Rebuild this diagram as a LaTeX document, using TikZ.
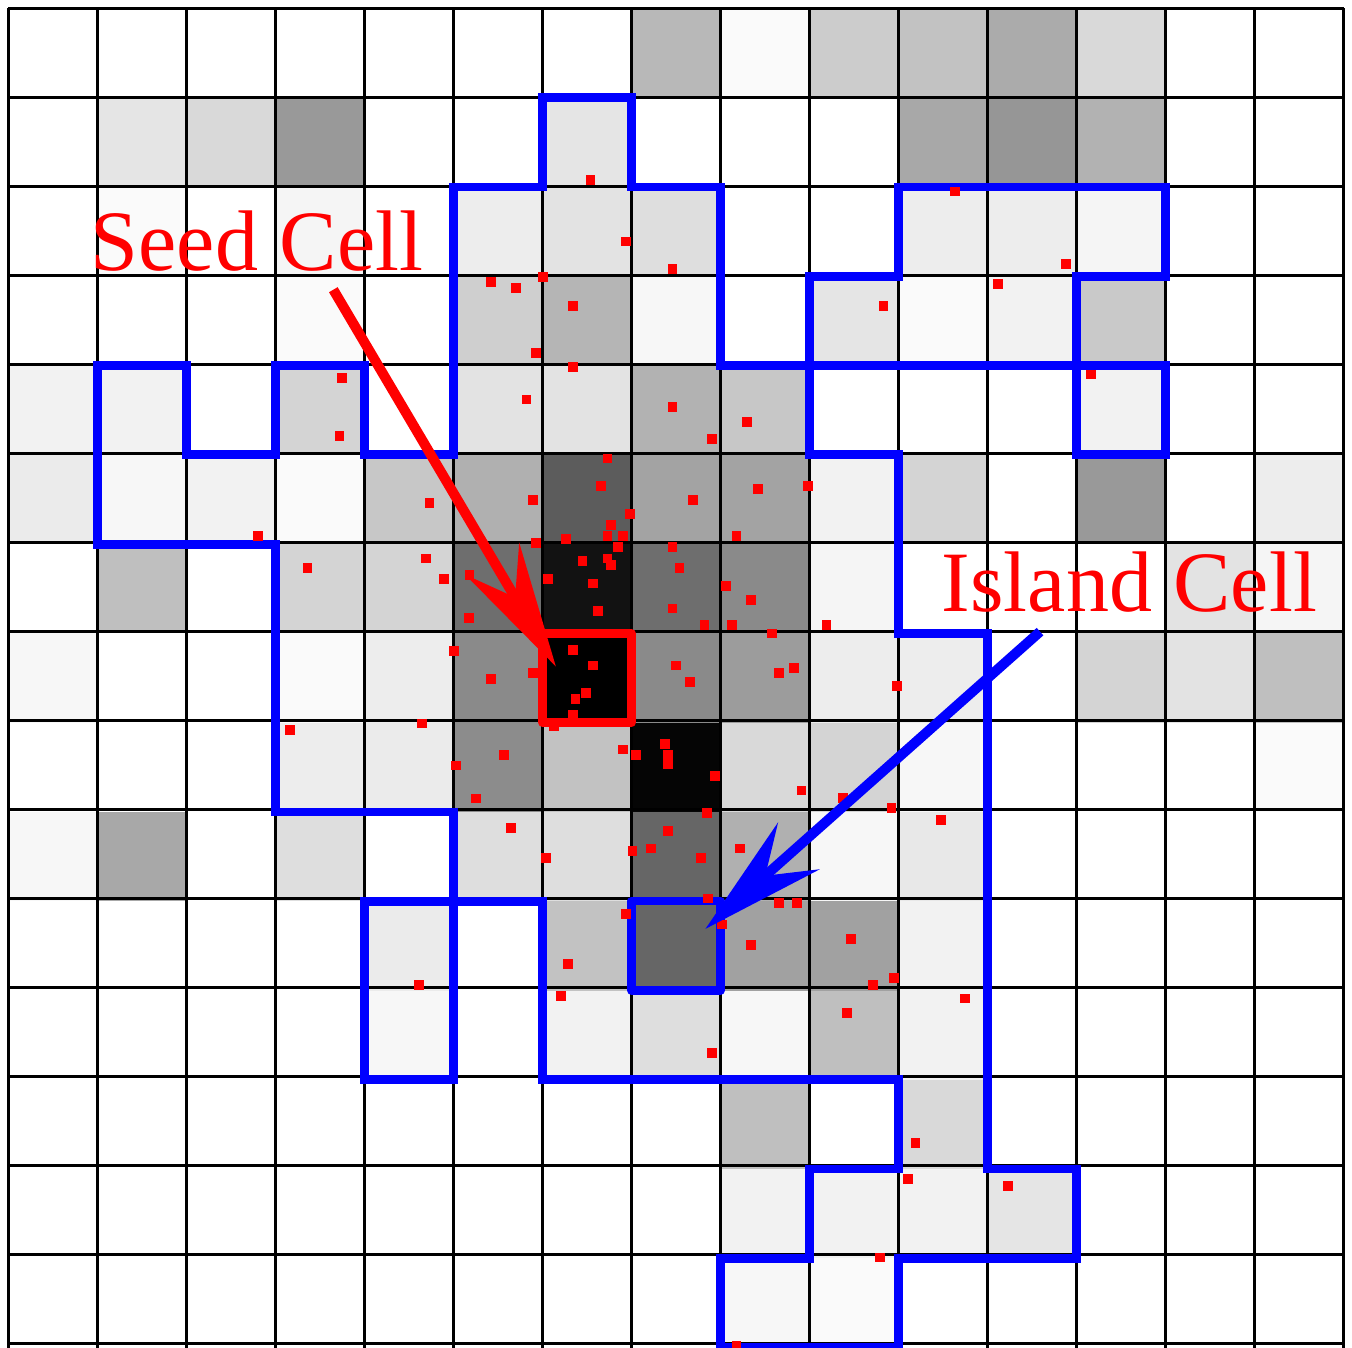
\documentclass[tikz,border=0pt]{standalone}
\usepackage{fontspec}
\setmainfont{Liberation Serif}
\usetikzlibrary{arrows.meta}
\definecolor{seedred}{HTML}{FF0000}
\definecolor{zoneblue}{HTML}{0000FF}

\begin{document}
\begin{tikzpicture}[x=1cm, y=-1.003cm,
  cellgrid/.style={draw=black, line width=1.1pt},
  zone/.style={draw=zoneblue, line width=2.8pt},
  cellbox/.style={draw=#1, line width=2.7pt, line join=round, minimum width=1cm, minimum height=1.003cm, inner sep=0pt},
  lbl/.style={text=seedred, font=\fontsize{27.5}{30}\selectfont, inner sep=0pt, anchor=base west},
  ptr/.style={draw=#1, fill=#1, line width=3.2pt, -{Stealth[length=1.4cm, width=0.7cm, inset=0.5cm]}}]

\useasboundingbox (-0.095,-0.095) rectangle (15.095,15.0);

% grey level of each cell (column/row/percent black)
\foreach \c/\r/\g in {7/0/28, 8/0/2, 9/0/20, 10/0/24, 11/0/33, 12/0/15,
  1/1/10, 2/1/15, 3/1/40, 6/1/10, 10/1/34, 11/1/41, 12/1/30,
  1/2/2, 3/2/4, 5/2/7, 6/2/11, 7/2/13, 10/2/7, 11/2/7, 12/2/4,
  3/3/2, 5/3/19, 6/3/29, 7/3/3, 9/3/10, 10/3/2, 11/3/5, 12/3/21,
  0/4/5, 1/4/5, 3/4/17, 5/4/11, 6/4/11, 7/4/30, 8/4/22, 12/4/5,
  0/5/8, 1/5/3, 2/5/5, 3/5/2, 4/5/22, 5/5/31, 6/5/64, 7/5/36, 8/5/36, 9/5/5, 10/5/17, 12/5/40, 14/5/7,
  1/6/25, 3/6/17, 4/6/17, 5/6/57, 6/6/93, 7/6/57, 8/6/46, 9/6/4, 13/6/11, 14/6/4,
  0/7/3, 3/7/2, 4/7/7, 5/7/46, 6/7/100, 7/7/46, 8/7/39, 9/7/7, 10/7/7, 12/7/17, 13/7/11, 14/7/25,
  3/8/7, 4/8/8, 5/8/45, 6/8/24, 7/8/98, 8/8/15, 9/8/17, 10/8/3, 14/8/2,
  0/9/3, 1/9/34, 3/9/13, 5/9/13, 6/9/13, 7/9/60, 8/9/31, 9/9/3, 10/9/9,
  4/10/8, 6/10/24, 7/10/60, 8/10/37, 9/10/37, 10/10/5,
  4/11/3, 6/11/5, 7/11/13, 8/11/3, 9/11/25, 10/11/5,
  8/12/25, 10/12/15,
  8/13/5, 9/13/5, 10/13/5, 11/13/10,
  8/14/3, 9/14/2}
  \fill[black!\g] (\c,\r) rectangle ++(1,1);

\draw[cellgrid] (0,0) grid (15,15);

% grown regions
\draw[zone] (6,1) -- (7,1) -- (7,2) -- (8,2) -- (8,4) -- (9,4) -- (9,5) -- (10,5) -- (10,7)
  -- (11,7) -- (11,13) -- (12,13) -- (12,14) -- (10,14) -- (10,15) -- (8,15) -- (8,14)
  -- (9,14) -- (9,13) -- (10,13) -- (10,12) -- (6,12) -- (6,10) -- (5,10) -- (5,12)
  -- (4,12) -- (4,10) -- (5,10) -- (5,9) -- (3,9) -- (3,6) -- (1,6) -- (1,4) -- (2,4)
  -- (2,5) -- (3,5) -- (3,4) -- (4,4) -- (4,5) -- (5,5) -- (5,2) -- (6,2) -- cycle;
\draw[zone] (10,2) -- (13,2) -- (13,3) -- (12,3) -- (12,4) -- (9,4) -- (9,3) -- (10,3) -- cycle;
\draw[zone] (12,4) rectangle (13,5);
\node[cellbox=zoneblue] (island) at (7.5,10.5) {};
\node[cellbox=seedred] (seed) at (6.5,7.5) {};

% sample points
\foreach \x/\y in {3.75/4.14, 3.72/4.79, 6.54/1.92, 6.94/2.61, 7.46/2.92, 5.42/3.06, 5.70/3.13,
  6.01/3.01, 6.34/3.33, 5.93/3.86, 6.34/4.02, 5.82/4.38, 7.46/4.46, 7.90/4.82, 8.30/4.63,
  9.83/3.33, 6.73/5.04, 10.63/2.05, 11.88/2.86, 11.12/3.09, 12.16/4.10, 2.80/5.91, 4.73/5.54,
  3.36/6.27, 4.69/6.16, 4.89/6.39, 5.01/7.20, 3.16/8.08, 4.65/8.01, 5.03/8.48, 6.66/5.35,
  5.89/5.51, 6.98/5.66, 6.77/5.79, 6.73/5.91, 6.90/5.91, 5.93/5.99, 6.26/5.94, 6.85/6.03,
  7.46/6.03, 6.45/6.19, 6.73/6.16, 6.77/6.23, 7.54/6.27, 6.06/6.39, 6.57/6.44, 8.06/6.47,
  8.34/6.63, 7.46/6.72, 6.62/6.75, 5.18/6.35, 5.17/6.83, 7.82/6.91, 8.13/6.91, 8.58/7.00,
  9.19/6.91, 8.98/5.35, 8.42/5.38, 7.69/5.51, 8.18/5.91, 5.42/7.51, 5.89/7.44, 6.00/7.46,
  6.34/7.19, 6.57/7.36, 6.37/7.73, 6.49/7.67, 6.34/7.91, 6.13/8.04, 7.50/7.36, 7.66/7.54,
  8.66/7.44, 8.83/7.39, 9.98/7.59, 6.90/8.30, 7.05/8.36, 7.38/8.24, 7.41/8.36, 7.41/8.46,
  7.94/8.60, 5.57/8.36, 5.25/8.85, 8.91/8.76, 9.38/8.84, 9.92/8.96, 7.85/9.01, 5.65/9.18,
  7.41/9.21, 6.04/9.52, 7.01/9.44, 7.22/9.41, 7.78/9.52, 8.22/9.41, 7.86/9.97, 8.66/10.02,
  8.86/10.02, 10.48/9.09, 6.94/10.14, 8.02/10.26, 6.29/10.70, 6.21/11.06, 8.34/10.49,
  9.47/10.42, 9.71/10.94, 9.95/10.86, 9.42/11.25, 7.90/11.70, 9.79/13.99, 8.18/14.98,
  10.75/11.09, 10.19/12.71, 10.11/13.11, 11.23/13.19, 4.61/10.94}
  \fill[seedred] (\x-0.055,\y-0.055) rectangle ++(0.11,0.11);

% labels and pointers
\node[lbl] (seedlbl) at (0.92,2.93) {Seed Cell};
\node[lbl] (islandlbl) at (10.48,6.76) {Island Cell};
\coordinate (seedfrom) at (3.65,3.15);
\coordinate (islandfrom) at (11.59,6.98);
\draw[ptr=seedred] (seedfrom) -- ([shift={(-0.35,-0.13)}]seed.center);
\draw[ptr=zoneblue] (islandfrom) -- ([shift={(0.33,-0.19)}]island.center);
\end{tikzpicture}
\end{document}
